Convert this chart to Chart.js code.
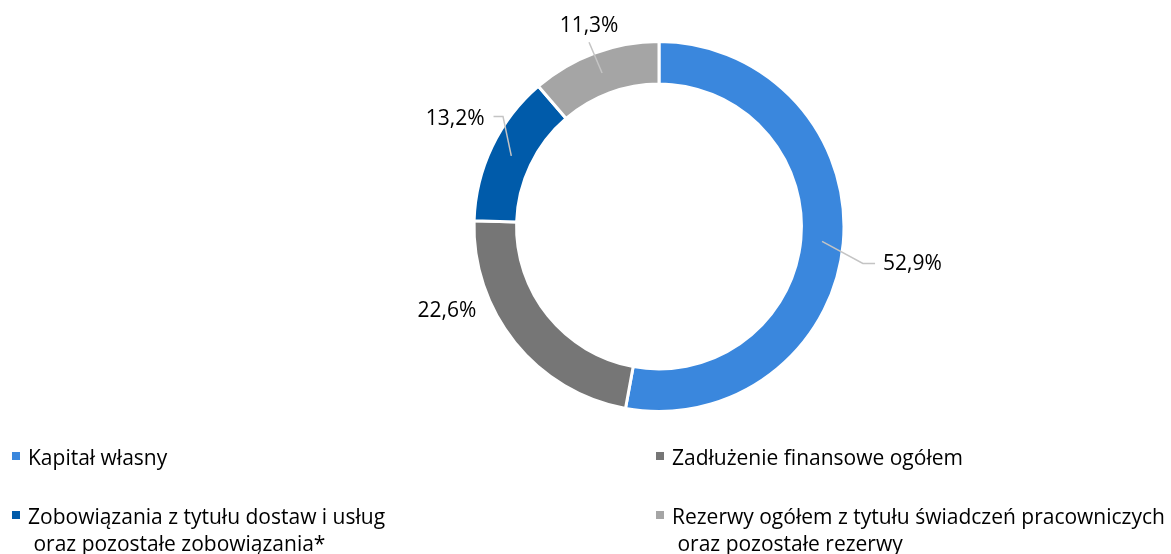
<!DOCTYPE html>
<html>
<head>
<meta charset="utf-8">
<script src="https://cdn.jsdelivr.net/npm/chart.js@4"></script>
<style>
    body { margin: 0; background: #fff; }
    #wrap { position: relative; width: 1171px; height: 554px; font-family: "Open Sans", sans-serif; }
    #chart { position: absolute; left: 0; top: 0; }
    .item { position: absolute; font-size: 21px; line-height: 27px; color: #000; white-space: pre; }
    .item .box { position: absolute; width: 8px; height: 8px; left: 0; top: 8px; }
    .item .txt { position: absolute; left: 16px; top: 0; }
</style>
</head>
<body>
<div id="wrap">
    <canvas id="chart" width="1171" height="554"></canvas>
</div>
<script>
const categories = [
    'Kapitał własny',
    'Zadłużenie finansowe ogółem',
    'Zobowiązania z tytułu dostaw i usług\n oraz pozostałe zobowiązania*',
    'Rezerwy ogółem z tytułu świadczeń pracowniczych\n oraz pozostałe rezerwy'
];
const shares = [52.9, 22.6, 13.2, 11.3];
const colors = ['#3a87dd', '#767676', '#005baa', '#a5a5a5'];

// where Excel put the labels: angle offset from the slice middle, radius as share of outer radius
const placement = [
    { da: 3.2, rr: 1.385, elbowDa: 5.06, elbowRr: 1.12 },
    { da: 17.05, rr: 1.235 },
    { da: 2.34, rr: 1.247, elbowDa: 9.64, elbowRr: 1.032 },
    { da: 1.14, rr: 1.15, elbowDa: -0.46, elbowRr: 1.065 }
];

const outsideLabels = {
    id: 'outsideLabels',
    afterDatasetsDraw(chart) {
        const c = chart.ctx;
        const arcs = chart.getDatasetMeta(0).data;
        c.save();
        c.font = '21px "Open Sans", sans-serif';
        c.textAlign = 'center';
        c.textBaseline = 'middle';
        arcs.forEach((arc, i) => {
            const p = placement[i];
            const mid = (arc.startAngle + arc.endAngle) / 2;
            const R = arc.outerRadius;
            const text = shares[i].toFixed(1).replace('.', ',') + '%';
            const a = mid + p.da * Math.PI / 180;
            const lx = arc.x + Math.cos(a) * R * p.rr;
            const ly = arc.y + Math.sin(a) * R * p.rr;
            const w = c.measureText(text).width;
            if (p.elbowRr) {
                const rm = (arc.innerRadius + arc.outerRadius) / 2;
                const sx = arc.x + Math.cos(mid) * rm;
                const sy = arc.y + Math.sin(mid) * rm;
                const ea = mid + p.elbowDa * Math.PI / 180;
                const ex = arc.x + Math.cos(ea) * R * p.elbowRr;
                const ey = arc.y + Math.sin(ea) * R * p.elbowRr;
                c.strokeStyle = '#c4c4c4';
                c.lineWidth = 1.5;
                c.beginPath();
                c.moveTo(sx, sy);
                c.lineTo(ex, ey);
                if (ex < lx - w / 2) c.lineTo(lx - w / 2 - 8, ey);
                else if (ex > lx + w / 2) c.lineTo(lx + w / 2 + 9, ey);
                c.stroke();
            }
            c.fillStyle = '#000';
            c.fillText(text, lx, ly);
        });
        c.restore();
    }
};

new Chart(document.getElementById('chart'), {
    type: 'doughnut',
    data: {
        labels: categories,
        datasets: [{
            data: shares,
            backgroundColor: colors,
            borderColor: '#ffffff',
            borderWidth: 3
        }]
    },
    options: {
        responsive: false,
        animation: false,
        cutout: '77%',
        layout: { padding: { top: 40, bottom: 141, left: 472, right: 325 } },
        plugins: {
            legend: { display: false },
            tooltip: { enabled: false }
        }
    },
    plugins: [outsideLabels]
});

// legend: two columns, two rows
const wrap = document.getElementById('wrap');
const colX = [12, 656];
const rowY = [444, 503];
categories.forEach((name, i) => {
    const item = document.createElement('div');
    item.className = 'item';
    item.style.left = colX[i % 2] + 'px';
    item.style.top = rowY[Math.floor(i / 2)] + 'px';
    item.innerHTML = '<span class="box"></span><span class="txt"></span>';
    item.querySelector('.box').style.background = colors[i];
    item.querySelector('.txt').textContent = name;
    wrap.appendChild(item);
});
</script>
</body>
</html>
